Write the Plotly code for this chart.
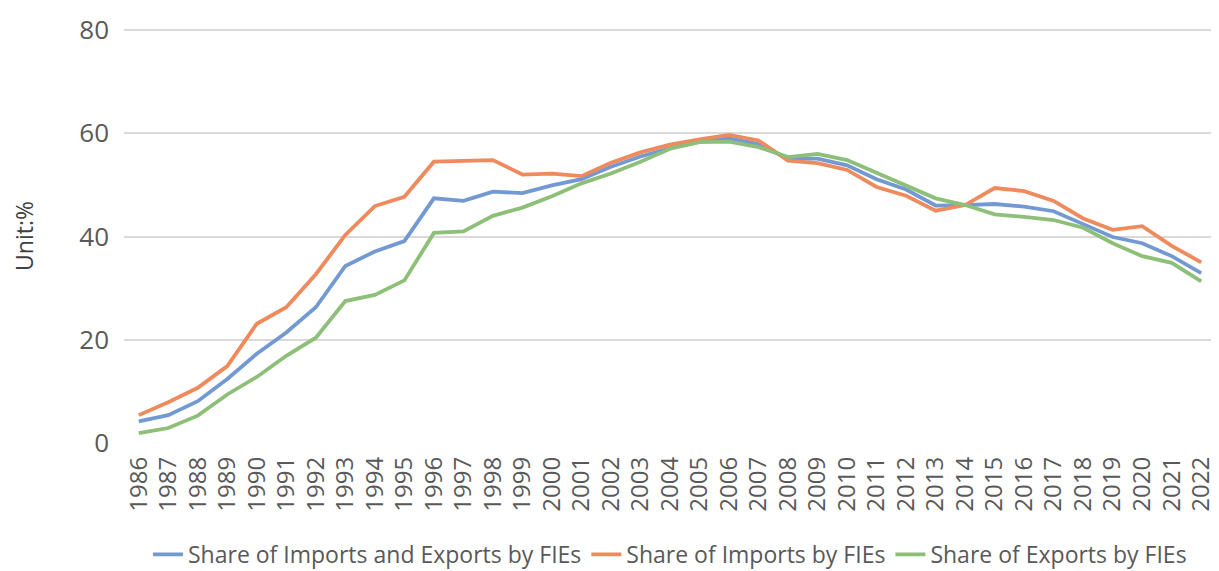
import plotly.graph_objects as go

years = [str(y) for y in range(1986, 2023)]

share_total = [4.2, 5.4, 8.1, 12.4, 17.3, 21.4, 26.3, 34.3, 37.1, 39.1, 47.4, 46.9, 48.7, 48.4,
               49.9, 51.1, 53.5, 55.5, 57.1, 58.4, 59.0, 57.9, 55.1, 55.1, 53.8, 51.1, 49.1,
               46.0, 46.1, 46.3, 45.8, 44.9, 42.4, 39.9, 38.7, 36.2, 32.9]
share_imports = [5.4, 7.9, 10.7, 14.9, 23.1, 26.3, 32.7, 40.3, 45.9, 47.7, 54.5, 54.6, 54.8, 52.0,
                 52.2, 51.7, 54.3, 56.3, 57.8, 58.8, 59.7, 58.6, 54.7, 54.2, 52.9, 49.6, 47.9,
                 45.0, 46.1, 49.4, 48.8, 46.9, 43.5, 41.3, 42.0, 38.2, 35.0]
share_exports = [1.9, 2.9, 5.3, 9.4, 12.8, 16.9, 20.4, 27.5, 28.7, 31.5, 40.7, 41.0, 44.0, 45.6,
                 47.8, 50.3, 52.2, 54.5, 57.0, 58.3, 58.4, 57.3, 55.4, 56.0, 54.8, 52.4, 49.9,
                 47.4, 46.1, 44.3, 43.8, 43.2, 41.7, 38.7, 36.2, 34.9, 31.3]

names = ["Share of Imports and Exports by FIEs", "Share of Imports by FIEs", "Share of Exports by FIEs"]
colors = ["#7399D2", "#EE8A5C", "#8DBF78"]

fig = go.Figure()
for name, vals, c in zip(names, [share_total, share_imports, share_exports], colors):
    fig.add_trace(go.Scatter(x=years, y=vals, mode="lines", name=name,
                             line=dict(color=c, width=3.8)))

fig.update_layout(
    width=1211, height=571,
    margin=dict(l=116, r=3, t=18, b=136),
    paper_bgcolor="white", plot_bgcolor="white",
    font=dict(family="Open Sans", color="#595959"),
    showlegend=True,
    legend=dict(orientation="h", x=0.5, xanchor="center", y=-0.269, yanchor="middle",
                font=dict(size=23, color="#595959"), tracegroupgap=0),
)
fig.update_xaxes(type="category", range=[-0.5, 36.5], tickangle=-90,
                 tickfont=dict(size=24, color="#595959"), showgrid=False,
                 showline=False, ticks="", zeroline=False, ticklabelstandoff=8)
fig.update_yaxes(range=[0, 80.2], tickvals=[0, 20, 40, 60, 80], tickfont=dict(size=26, color="#595959"),
                 gridcolor="#D9D9D9", gridwidth=1.5, zeroline=False, showline=False,
                 ticks="", ticklabelstandoff=14,
                 title=dict(text="Unit:%", font=dict(size=23, color="#404040"), standoff=46))

fig.write_html("out.html")
